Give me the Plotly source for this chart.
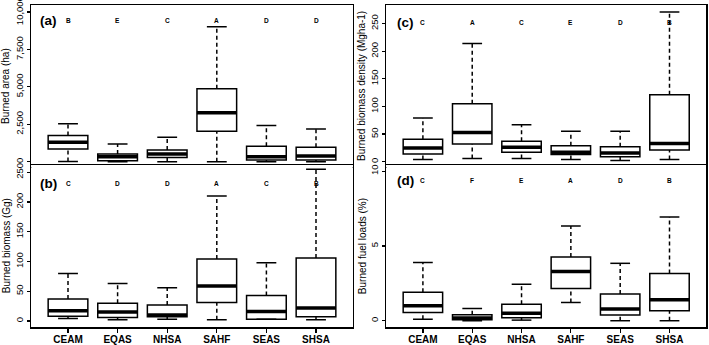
import plotly.graph_objects as go

categories = ["CEAM", "EQAS", "NHSA", "SAHF", "SEAS", "SHSA"]

# (a) Burned area (ha)
area_low = [20, 0, 0, 0, 0, 0]
area_q1 = [850, 70, 290, 2035, 110, 110]
area_med = [1300, 335, 515, 3270, 335, 380]
area_q3 = [1745, 520, 785, 4880, 1030, 960]
area_high = [2530, 1190, 1630, 9010, 2420, 2190]
area_letters = ["B", "E", "C", "A", "D", "D"]
area_ticks = [0, 2500, 5000, 7500, 10000]
area_ticktext = ["0", "2,500", "5,000", "7,500", "10,000"]

# (b) Burned biomass (Gg)
bio_low = [4, 2, 3, 2, 3, 2]
bio_q1 = [8, 6, 7, 31, 3, 7]
bio_med = [17, 15, 10, 59, 16, 22]
bio_q3 = [37, 30, 27, 104, 43, 106]
bio_high = [80, 63, 56, 210, 98, 255]
bio_letters = ["C", "D", "D", "A", "C", "B"]
bio_ticks = [0, 50, 100, 150, 200, 250]

# (c) Burned biomass density (Mgha-1)
dens_low = [4, 6, 6, 4, 2, 4]
dens_q1 = [14, 32, 17, 13, 9, 21]
dens_med = [25, 53, 26, 17, 16, 33]
dens_q3 = [40.5, 105, 37, 29, 27, 121]
dens_high = [79, 214, 67, 55, 55, 271]
dens_letters = ["C", "A", "C", "E", "D", "B"]
dens_ticks = [0, 50, 100, 150, 200, 250]

# (d) Burned fuel loads (%)
fuel_low = [0.1, 0.0, 0.04, 1.22, 0.0, 0.0]
fuel_q1 = [0.55, 0.07, 0.2, 2.15, 0.38, 0.67]
fuel_med = [1.0, 0.18, 0.5, 3.3, 0.78, 1.4]
fuel_q3 = [1.9, 0.4, 1.1, 4.27, 1.78, 3.16]
fuel_high = [3.9, 0.82, 2.44, 6.33, 3.84, 6.93]
fuel_letters = ["C", "F", "E", "A", "D", "B"]
fuel_ticks = [0, 5, 10]

FONT = "Liberation Sans, Arial, sans-serif"
W, H = 709, 345
BOXW = 0.8
CAPW = 0.4

panels = [
    dict(name="(a)", ax="", low=area_low, q1=area_q1, med=area_med, q3=area_q3, high=area_high,
         letters=area_letters, ticks=area_ticks, ticktext=area_ticktext, rng=[-336, 10470],
         title="Burned area (ha)", xdom=[31.3, 352.7], ydom=[5, 166.75], bottom=False,
         lab_y=21, tag_x=48, title_x=6),
    dict(name="(b)", ax="2", low=bio_low, q1=bio_q1, med=bio_med, q3=bio_q3, high=bio_high,
         letters=bio_letters, ticks=bio_ticks, ticktext=[str(t) for t in bio_ticks], rng=[-10.1, 261.7],
         title="Burned biomass (Gg)", xdom=[31.3, 352.7], ydom=[165.25, 327], bottom=True,
         lab_y=183, tag_x=48, title_x=6),
    dict(name="(c)", ax="3", low=dens_low, q1=dens_q1, med=dens_med, q3=dens_q3, high=dens_high,
         letters=dens_letters, ticks=dens_ticks, ticktext=[str(t) for t in dens_ticks], rng=[-9.1, 283.6],
         title="Burned biomass density (Mgha-1)", xdom=[386.4, 706.0], ydom=[5, 166.75], bottom=False,
         lab_y=23, tag_x=405, title_x=362),
    dict(name="(d)", ax="4", low=fuel_low, q1=fuel_q1, med=fuel_med, q3=fuel_q3, high=fuel_high,
         letters=fuel_letters, ticks=fuel_ticks, ticktext=[str(t) for t in fuel_ticks], rng=[-0.42, 10.4],
         title="Burned fuel loads (%)", xdom=[386.4, 706.0], ydom=[165.25, 327], bottom=True,
         lab_y=180, tag_x=405, title_x=362),
]

fig = go.Figure()
annotations = []
layout = {}
xs = list(range(1, len(categories) + 1))

for p in panels:
    xa, ya = "x" + p["ax"], "y" + p["ax"]
    fig.add_trace(go.Box(
        x=xs, q1=p["q1"], median=p["med"], q3=p["q3"],
        lowerfence=p["q1"], upperfence=p["q3"],
        width=BOXW, boxpoints=False, whiskerwidth=0,
        fillcolor="white", line=dict(color="black", width=1.5),
        xaxis=xa, yaxis=ya, showlegend=False, hoverinfo="skip"))
    wx, wy = [], []
    for i, x in enumerate(xs):
        wx += [x, x, None, x, x, None]
        wy += [p["q3"][i], p["high"][i], None, p["low"][i], p["q1"][i], None]
    fig.add_trace(go.Scatter(x=wx, y=wy, mode="lines", xaxis=xa, yaxis=ya,
                             line=dict(color="black", width=1.5, dash="4px,3px"),
                             showlegend=False, hoverinfo="skip"))
    cx, cy = [], []
    for i, x in enumerate(xs):
        cx += [x - CAPW / 2, x + CAPW / 2, None, x - CAPW / 2, x + CAPW / 2, None]
        cy += [p["high"][i], p["high"][i], None, p["low"][i], p["low"][i], None]
    fig.add_trace(go.Scatter(x=cx, y=cy, mode="lines", xaxis=xa, yaxis=ya,
                             line=dict(color="black", width=1.5),
                             showlegend=False, hoverinfo="skip"))
    mx, my = [], []
    for i, x in enumerate(xs):
        mx += [x - BOXW / 2, x + BOXW / 2, None]
        my += [p["med"][i], p["med"][i], None]
    fig.add_trace(go.Scatter(x=mx, y=my, mode="lines", xaxis=xa, yaxis=ya,
                             line=dict(color="black", width=3.5),
                             showlegend=False, hoverinfo="skip"))

    xkey = "xaxis" + p["ax"]
    ykey = "yaxis" + p["ax"]
    layout[xkey] = dict(
        domain=[p["xdom"][0] / W, p["xdom"][1] / W], anchor=ya, range=[0.26, 6.74],
        showline=True, mirror=True, linecolor="black", linewidth=1.5,
        ticks="outside", ticklen=4, tickwidth=1.2, tickcolor="black",
        tickvals=xs, ticktext=["<b>%s</b>" % c for c in categories],
        showticklabels=p["bottom"], showgrid=False, zeroline=False,
        ticklabeloverflow="allow", ticklabelstandoff=-2,
        tickfont=dict(family=FONT, size=10, color="black"))
    layout[ykey] = dict(
        domain=[1 - p["ydom"][1] / H, 1 - p["ydom"][0] / H], anchor=xa, range=p["rng"],
        showline=True, mirror=True, linecolor="black", linewidth=1.5,
        ticks="outside", ticklen=3, tickwidth=1.2, tickcolor="black",
        tickvals=p["ticks"], ticktext=p["ticktext"], tickangle=-90,
        showgrid=False, zeroline=False, ticklabeloverflow="allow",
        tickfont=dict(family=FONT, size=9.5, color="black"))

    for i, x in enumerate(xs):
        annotations.append(dict(x=x, y=1 - p["lab_y"] / H, xref=xa, yref="paper",
                                xanchor="center", yanchor="middle",
                                text="<b>%s</b>" % p["letters"][i], showarrow=False,
                                font=dict(family=FONT, size=6.5, color="black")))
    annotations.append(dict(x=p["tag_x"] / W, y=1 - p["lab_y"] / H, xref="paper", yref="paper",
                            xanchor="center", yanchor="middle",
                            text="<b>%s</b>" % p["name"], showarrow=False,
                            font=dict(family=FONT, size=13.5, color="black")))
    annotations.append(dict(x=p["title_x"] / W, y=1 - (p["ydom"][0] + p["ydom"][1]) / 2 / H,
                            xref="paper", yref="paper", xanchor="center", yanchor="middle",
                            text=p["title"], textangle=-90,
                            showarrow=False, font=dict(family=FONT, size=10, color="black")))

fig.update_layout(
    width=W, height=H, margin=dict(l=0, r=0, t=0, b=0, autoexpand=False),
    paper_bgcolor="white", plot_bgcolor="white",
    annotations=annotations, **layout)

fig.write_html("out.html", config={"displayModeBar": False, "staticPlot": True},
               post_script="document.body.style.margin='0';document.body.style.overflow='hidden';")
